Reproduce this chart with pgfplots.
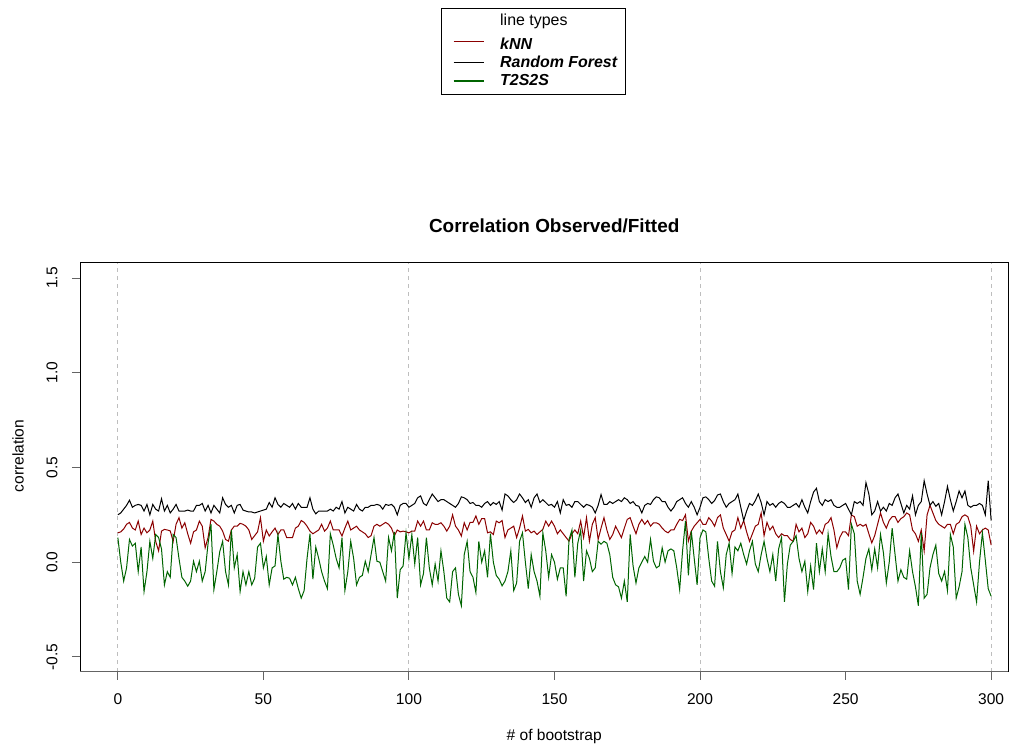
\documentclass[border=0pt]{standalone}
\usepackage{pgfplots}
\pgfplotsset{compat=1.18}
\usepackage{fontspec}
\setmainfont{Liberation Sans}

\definecolor{knnred}{RGB}{139,0,0}
\definecolor{rfblack}{RGB}{0,0,0}
\definecolor{t2green}{RGB}{0,100,0}
\definecolor{gridgray}{RGB}{190,190,190}
\definecolor{axgray}{RGB}{100,100,100}

\begin{document}
\begin{tikzpicture}
\begin{axis}[
    scale only axis,
    width=464bp,
    height=204.5bp,
    xmin=-13, xmax=305.8,
    ymin=-0.58, ymax=1.58,
    clip=false,
    xtick={0,50,...,300},
    ytick={-0.5,0,0.5,1,1.5},
    /pgf/number format/assume math mode=true,
    xtick pos=left,
    ytick pos=left,
    tick align=outside,
    major tick length=4bp,
    xtick style={draw=axgray, line width=0.5bp},
    ytick style={draw=axgray, line width=0.5bp},
    axis line style={line width=0.5bp},
    tick label style={font=\fontsize{7.8}{9}\selectfont},
    xticklabel style={anchor=center, yshift=-9.5bp},
    yticklabel style={/pgf/number format/fixed, /pgf/number format/fixed zerofill,
        /pgf/number format/precision=1, xshift=-10bp, rotate=90, anchor=center},
    extra x ticks={0,100,200,300},
    extra x tick labels={},
    extra x tick style={grid=major},
    major grid style={gridgray, dash pattern=on 2bp off 2bp, line width=0.5bp},
    title={Correlation Observed/Fitted},
    title style={at={(axis description cs:0.511,1)}, anchor=center, yshift=12.5bp, font=\bfseries\fontsize{9.5}{11}\selectfont},
    xlabel={\# of bootstrap},
    ylabel={correlation},
    label style={font=\fontsize{7.8}{9}\selectfont},
    xlabel style={at={(axis description cs:0.511,-0.158)}, anchor=center},
    ylabel style={at={(axis description cs:-0.0668,0.528)}, anchor=center},
    legend style={at={(axis description cs:0.389,1.6235)}, anchor=north west,
        draw=black, line width=0.5bp, font=\fontsize{8}{9}\selectfont,
        inner xsep=2bp, inner ysep=2.3bp, row sep=0pt,
        nodes={inner ysep=0.6bp},
        /tikz/every odd column/.append style={column sep=6bp}},
    legend cell align=left,
    legend image code/.code={\draw[#1, line width=0.7bp] (4bp,0bp) -- (19bp,0bp);},
    every axis plot/.append style={line width=0.5bp},
]
\addlegendimage{empty legend}
\addlegendentry{line types}

\addplot[knnred, no markers] table[x expr=\coordindex, y index=0, header=false, row sep=\\] {
0.155\\0.16\\0.175\\0.20\\0.21\\0.18\\0.17\\0.217\\0.146\\0.18\\0.155\\0.17\\0.217\\0.11\\0.06\\0.164\\0.173\\0.17\\0.165\\0.11\\0.20\\0.235\\0.18\\0.208\\0.15\\0.10\\0.16\\0.17\\0.217\\
0.19\\0.076\\0.13\\0.226\\0.217\\0.20\\0.19\\0.164\\0.12\\0.111\\0.17\\0.19\\0.19\\0.205\\0.2\\0.19\\0.17\\0.12\\0.14\\0.16\\0.235\\0.111\\0.17\\0.138\\0.16\\0.18\\0.146\\0.17\\0.17\\0.13\\0.13\\
0.13\\0.18\\0.19\\0.22\\0.21\\0.19\\0.164\\0.15\\0.16\\0.17\\0.20\\0.164\\0.18\\0.217\\0.17\\0.17\\0.17\\0.138\\0.18\\0.217\\0.17\\0.18\\0.19\\0.17\\0.16\\0.15\\0.13\\0.14\\0.19\\0.20\\
0.19\\0.20\\0.21\\0.20\\0.18\\0.14\\0.17\\0.16\\0.164\\0.16\\0.155\\0.164\\0.164\\0.217\\0.19\\0.217\\0.17\\0.17\\0.208\\0.20\\0.20\\0.208\\0.19\\0.164\\0.19\\0.25\\0.19\\0.17\\0.138\\0.208\\
0.17\\0.21\\0.21\\0.244\\0.20\\0.23\\0.23\\0.155\\0.16\\0.146\\0.217\\0.208\\0.22\\0.13\\0.17\\0.18\\0.19\\0.13\\0.18\\0.244\\0.164\\0.173\\0.155\\0.164\\0.146\\0.16\\0.173\\0.217\\0.19\\0.217\\
0.19\\0.15\\0.17\\0.15\\0.13\\0.111\\0.15\\0.17\\0.15\\0.217\\0.13\\0.235\\0.111\\0.20\\0.235\\0.12\\0.18\\0.235\\0.17\\0.12\\0.146\\0.19\\0.16\\0.13\\0.18\\0.226\\0.235\\0.19\\0.15\\0.20\\0.226\\
0.20\\0.22\\0.19\\0.208\\0.208\\0.20\\0.18\\0.164\\0.155\\0.17\\0.17\\0.20\\0.226\\0.22\\0.25\\0.111\\0.164\\0.19\\0.208\\0.226\\0.20\\0.20\\0.235\\0.217\\0.19\\0.235\\0.25\\0.18\\0.146\\0.111\\
0.16\\0.17\\0.235\\0.18\\0.22\\0.16\\0.11\\0.15\\0.19\\0.20\\0.26\\0.14\\0.21\\0.17\\0.19\\0.15\\0.13\\0.15\\0.14\\0.14\\0.12\\0.11\\0.20\\0.16\\0.18\\0.13\\0.15\\0.21\\0.19\\0.15\\
0.17\\0.15\\0.20\\0.21\\0.235\\0.17\\0.076\\0.13\\0.16\\0.16\\0.14\\0.25\\0.24\\0.19\\0.20\\0.19\\0.20\\0.15\\0.102\\0.14\\0.20\\0.26\\0.21\\0.18\\0.22\\0.24\\0.24\\0.21\\0.23\\0.24\\
0.26\\0.25\\0.17\\0.15\\0.11\\0.17\\0.06\\0.25\\0.30\\0.26\\0.22\\0.20\\0.19\\0.18\\0.20\\0.20\\0.15\\0.20\\0.21\\0.24\\0.25\\0.24\\0.19\\0.058\\0.19\\0.15\\0.17\\0.18\\0.17\\0.09\\
};
\addlegendentry{\rule[-2.3bp]{0pt}{11.3bp}\textbf{\textit{kNN}}}

\addplot[rfblack, no markers] table[x expr=\coordindex, y index=0, header=false, row sep=\\] {
0.25\\0.26\\0.28\\0.30\\0.327\\0.29\\0.30\\0.305\\0.30\\0.27\\0.305\\0.25\\0.305\\0.28\\0.27\\0.335\\0.27\\0.30\\0.26\\0.28\\0.305\\0.27\\0.27\\0.27\\0.275\\0.27\\0.27\\0.30\\0.30\\
0.31\\0.27\\0.30\\0.26\\0.30\\0.28\\0.26\\0.34\\0.305\\0.29\\0.30\\0.26\\0.30\\0.305\\0.275\\0.27\\0.265\\0.265\\0.26\\0.265\\0.27\\0.275\\0.28\\0.315\\0.29\\0.34\\0.305\\0.29\\0.31\\0.30\\0.29\\
0.31\\0.28\\0.31\\0.29\\0.29\\0.29\\0.34\\0.28\\0.255\\0.27\\0.27\\0.27\\0.27\\0.28\\0.27\\0.29\\0.28\\0.32\\0.26\\0.29\\0.28\\0.27\\0.305\\0.28\\0.27\\0.29\\0.29\\0.30\\0.30\\0.305\\
0.30\\0.28\\0.305\\0.30\\0.305\\0.29\\0.25\\0.30\\0.31\\0.31\\0.29\\0.30\\0.31\\0.34\\0.35\\0.31\\0.30\\0.33\\0.36\\0.34\\0.32\\0.33\\0.33\\0.32\\0.31\\0.30\\0.29\\0.31\\0.345\\0.34\\
0.33\\0.31\\0.315\\0.30\\0.30\\0.29\\0.31\\0.32\\0.30\\0.315\\0.305\\0.32\\0.275\\0.36\\0.35\\0.33\\0.315\\0.33\\0.36\\0.34\\0.315\\0.33\\0.29\\0.34\\0.36\\0.315\\0.33\\0.315\\0.30\\0.305\\
0.29\\0.32\\0.26\\0.33\\0.30\\0.305\\0.29\\0.32\\0.32\\0.305\\0.29\\0.305\\0.30\\0.29\\0.26\\0.30\\0.357\\0.305\\0.305\\0.32\\0.31\\0.32\\0.33\\0.32\\0.34\\0.33\\0.31\\0.32\\0.30\\0.295\\0.26\\
0.30\\0.31\\0.305\\0.33\\0.345\\0.34\\0.32\\0.32\\0.29\\0.27\\0.29\\0.32\\0.33\\0.34\\0.31\\0.29\\0.32\\0.29\\0.25\\0.29\\0.34\\0.345\\0.33\\0.31\\0.325\\0.355\\0.36\\0.32\\0.29\\0.31\\
0.32\\0.33\\0.36\\0.29\\0.22\\0.27\\0.31\\0.30\\0.325\\0.36\\0.315\\0.25\\0.32\\0.30\\0.31\\0.29\\0.31\\0.32\\0.31\\0.29\\0.29\\0.30\\0.31\\0.29\\0.33\\0.29\\0.26\\0.32\\0.37\\0.39\\
0.32\\0.30\\0.33\\0.32\\0.33\\0.30\\0.29\\0.29\\0.30\\0.31\\0.28\\0.25\\0.32\\0.31\\0.32\\0.30\\0.42\\0.36\\0.25\\0.27\\0.32\\0.27\\0.29\\0.27\\0.31\\0.30\\0.34\\0.36\\0.31\\0.26\\
0.30\\0.28\\0.35\\0.25\\0.30\\0.32\\0.43\\0.36\\0.30\\0.32\\0.295\\0.31\\0.25\\0.32\\0.40\\0.33\\0.27\\0.32\\0.376\\0.34\\0.376\\0.30\\0.29\\0.30\\0.30\\0.31\\0.30\\0.25\\0.43\\0.22\\
};
\addlegendentry{\rule[-2.3bp]{0pt}{8.8bp}\textbf{\textit{Random Forest}}}

\addplot[t2green, no markers] table[x expr=\coordindex, y index=0, header=false, row sep=\\] {
0.13\\0.0\\-0.10\\-0.03\\0.12\\0.085\\0.10\\-0.05\\0.08\\-0.155\\-0.05\\0.11\\0.02\\0.146\\0.13\\0.07\\-0.12\\-0.05\\-0.08\\0.146\\0.13\\0.02\\-0.08\\-0.10\\-0.127\\-0.10\\0.005\\-0.05\\0.005\\
-0.10\\-0.05\\0.10\\0.20\\-0.145\\-0.05\\0.055\\0.11\\-0.05\\-0.12\\0.17\\-0.03\\0.04\\-0.155\\-0.05\\-0.12\\-0.05\\-0.12\\-0.085\\0.08\\0.10\\-0.03\\0.03\\-0.12\\-0.03\\-0.02\\0.146\\0.005\\-0.09\\-0.08\\-0.085\\
-0.12\\-0.08\\-0.14\\-0.19\\-0.15\\0.02\\0.15\\-0.09\\0.08\\0.02\\-0.05\\-0.10\\-0.14\\0.15\\0.09\\0.02\\-0.03\\0.13\\-0.15\\-0.05\\0.11\\0.02\\-0.12\\-0.08\\-0.07\\0.005\\-0.05\\0.04\\0.13\\0.005\\
0.0\\-0.05\\-0.10\\0.13\\0.06\\0.16\\-0.19\\-0.04\\-0.02\\0.155\\0.02\\0.146\\-0.01\\0.13\\-0.12\\-0.06\\0.13\\-0.03\\-0.12\\-0.01\\-0.10\\0.06\\-0.05\\-0.19\\-0.21\\-0.05\\-0.03\\-0.17\\-0.23\\0.04\\
0.11\\-0.05\\-0.08\\-0.16\\0.11\\0.0\\0.06\\-0.08\\0.15\\0.0\\-0.07\\-0.09\\-0.125\\-0.10\\-0.05\\0.06\\-0.15\\-0.11\\0.11\\0.155\\0.0\\-0.14\\0.04\\-0.05\\-0.10\\-0.18\\0.155\\0.06\\-0.08\\0.04\\
0.0\\-0.09\\-0.03\\-0.03\\-0.18\\0.12\\0.17\\-0.08\\0.1\\0.17\\-0.10\\0.06\\0.02\\-0.05\\-0.03\\0.11\\0.095\\0.11\\0.10\\0.04\\-0.08\\-0.12\\-0.13\\-0.19\\-0.10\\-0.21\\0.146\\-0.02\\-0.11\\-0.03\\0.0\\
0.03\\0.0\\0.12\\0.005\\-0.03\\-0.02\\0.076\\0.0\\0.06\\0.07\\0.06\\-0.03\\-0.145\\0.06\\0.217\\-0.07\\0.164\\0.02\\-0.12\\0.13\\0.17\\0.16\\0.02\\-0.10\\-0.127\\0.11\\-0.05\\-0.135\\0.04\\0.10\\
-0.06\\0.08\\0.06\\0.10\\0.04\\-0.01\\0.06\\0.11\\-0.01\\-0.05\\0.04\\0.11\\0.02\\-0.05\\0.04\\-0.10\\0.07\\0.13\\-0.21\\-0.01\\0.09\\0.11\\0.14\\0.02\\-0.05\\0.005\\-0.155\\-0.02\\-0.145\\0.10\\
-0.05\\0.07\\-0.05\\0.15\\0.03\\-0.05\\-0.05\\-0.03\\0.01\\0.02\\-0.145\\0.20\\0.15\\-0.10\\-0.17\\-0.08\\0.02\\0.07\\-0.04\\0.07\\-0.03\\0.146\\0.05\\-0.11\\0.0\\0.18\\0.04\\-0.10\\-0.04\\-0.08\\
-0.09\\0.06\\-0.05\\-0.13\\-0.23\\0.155\\-0.19\\-0.17\\-0.03\\0.04\\0.09\\-0.06\\-0.10\\-0.05\\-0.15\\0.146\\0.08\\-0.19\\-0.13\\-0.05\\0.20\\0.13\\-0.03\\-0.12\\-0.21\\0.0\\0.155\\0.01\\-0.14\\-0.18\\
};
\addlegendentry{\rule[-2.3bp]{0pt}{8.8bp}\textbf{\textit{T2S2S}}}

% bottom axis line and tick marks in grey, as R draws them
\draw[axgray, line width=0.5bp] (rel axis cs:0,0) -- (rel axis cs:1,0);
\pgfplotsinvokeforeach{0,50,100,150,200,250,300}{
    \draw[axgray, line width=0.5bp] (axis cs:#1,-0.58) -- ++(0bp,-4bp);
}
\pgfplotsinvokeforeach{-0.5,0,0.5,1,1.5}{
    \draw[axgray, line width=0.5bp] (axis cs:-13,#1) -- ++(-4bp,0bp);
}
\end{axis}
\useasboundingbox (-40bp,-37.5bp) rectangle (470.5bp,336bp);
\end{tikzpicture}
\end{document}
